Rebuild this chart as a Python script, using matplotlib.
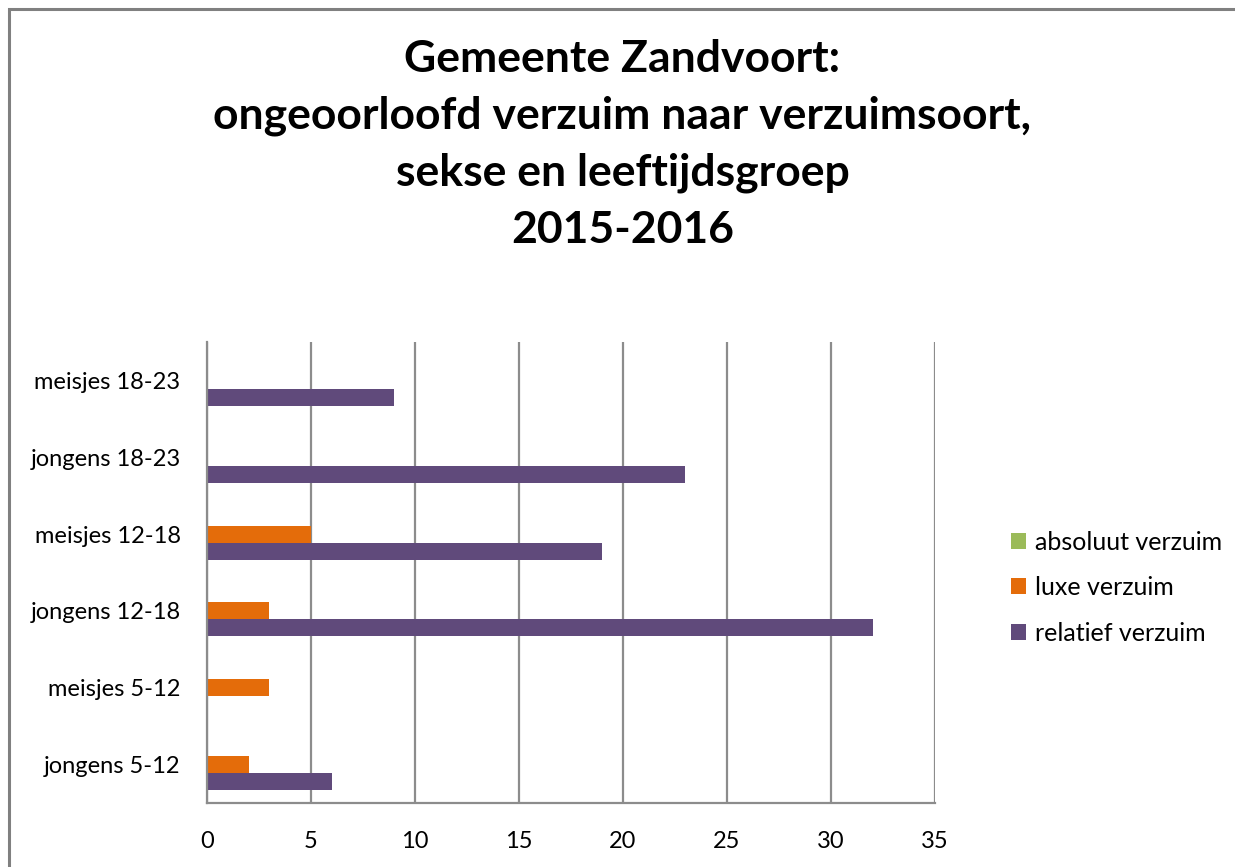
import numpy as np
import matplotlib.pyplot as plt
from matplotlib.patches import Rectangle

categories = ["jongens 5-12", "meisjes 5-12", "jongens 12-18",
              "meisjes 12-18", "jongens 18-23", "meisjes 18-23"]
absoluut = [0, 0, 0, 0, 0, 0]
luxe = [2, 3, 3, 5, 0, 0]
relatief = [6, 0, 32, 19, 23, 9]
series_names = ["absoluut verzuim", "luxe verzuim", "relatief verzuim"]
xticks = [0, 5, 10, 15, 20, 25, 30, 35]

plt.rcParams['font.family'] = ['Lato', 'DejaVu Sans']

fig = plt.figure(figsize=(12.35, 8.67), dpi=100)
ax = fig.add_axes([0.1676, 0.074, 0.757 - 0.1676, 0.6055 - 0.074])

y = np.arange(len(categories))
h = 0.222
ax.barh(y + h, absoluut, height=h, color='#9BBB59', label=series_names[0])
ax.barh(y, luxe, height=h, color='#E46C0A', label=series_names[1])
ax.barh(y - h, relatief, height=h, color='#604A7B', label=series_names[2])

ax.set_xlim(0, 35)
ax.set_ylim(-0.5, len(categories) - 0.5)
ax.set_xticks(xticks)
ax.set_yticks(y)
ax.set_yticklabels(categories)
ax.xaxis.grid(True, color='#8C8C8C', linewidth=1.6)
ax.set_axisbelow(True)
for s in ['top', 'right']:
    ax.spines[s].set_visible(False)
for s in ['left', 'bottom']:
    ax.spines[s].set_color('#8C8C8C')
    ax.spines[s].set_linewidth(1.6)
ax.tick_params(axis='both', length=0, labelsize=17, colors='black')
ax.tick_params(axis='y', pad=19)
ax.tick_params(axis='x', pad=20)

ax.legend(loc='center left', bbox_to_anchor=(1.073, 0.467), frameon=False,
          fontsize=18, handlelength=0.62, handleheight=0.62, handletextpad=0.35,
          labelspacing=0.9)

fig.text(0.504, 0.955, "Gemeente Zandvoort:\nongeoorloofd verzuim naar verzuimsoort,\nsekse en leeftijdsgroep\n2015-2016",
         ha='center', va='top', fontsize=32, fontweight='bold', linespacing=1.5)

fig.patches.append(Rectangle((0.0073, -0.1), 1.1, 0.1 + 0.9896, transform=fig.transFigure,
                             fill=False, edgecolor='#808080', linewidth=2.2))

fig.savefig('out.png', dpi=100, facecolor='white')
